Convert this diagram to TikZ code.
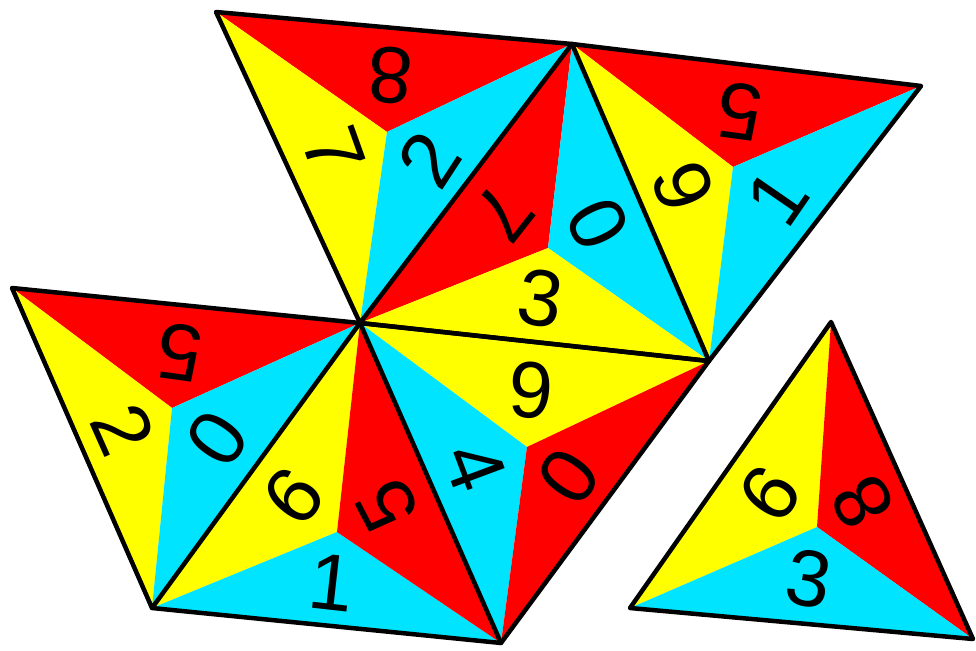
\documentclass[tikz,border=0pt]{standalone}
\usepackage{fontspec}
\setmainfont{Liberation Sans}
\usetikzlibrary{calc}
\definecolor{tred}{RGB}{255,0,0}
\definecolor{tyel}{RGB}{255,255,0}
\definecolor{tcya}{RGB}{0,228,255}
% #1 center, #2 vertex, #3 vertex, #4 colour
\newcommand\myfacet[4]{\fill[#4] (#1) -- (#2) -- (#3) -- cycle;}
% #1 name, #2 center, #3 vertex, #4 vertex, #5 text
\newcommand\mylabel[5]{%
  \path let \p1=(#2), \p2=($(#2)!0.54!($(#3)!0.5!(#4)$)$),
            \n1={atan2(\y1-\y2,\x1-\x2)-90} in
    node[dig, rotate=\n1] (#1) at (\p2) {#5};}
\begin{document}
\begin{tikzpicture}[x=1pt, y=-1pt,
  dig/.style={font=\fontsize{80}{80}\selectfont, inner sep=0pt},
  edge/.style={line width=4.5pt, line join=round, line cap=round, draw=black}]
\useasboundingbox (0,0) rectangle (976,650);
% vertices
\coordinate (A) at (216,12);
\coordinate (B) at (572,44);
\coordinate (C) at (921,86);
\coordinate (D) at (360,323);
\coordinate (E) at (709,361);
\coordinate (F) at (12,288);
\coordinate (G) at (152,608);
\coordinate (H) at (501,643);
\coordinate (P) at (831,322);
\coordinate (Q) at (630,608);
\coordinate (R) at (973,639);
% centres
\coordinate (c1) at (387,132);
\coordinate (c2) at (548,248);
\coordinate (c3) at (733,167);
\coordinate (c4) at (172,408);
\coordinate (c5) at (337,532);
\coordinate (c6) at (527,447);
\coordinate (c7) at (817,527);
% facets
\myfacet{c1}{A}{B}{tred}\myfacet{c1}{A}{D}{tyel}\myfacet{c1}{B}{D}{tcya}
\myfacet{c2}{B}{D}{tred}\myfacet{c2}{B}{E}{tcya}\myfacet{c2}{D}{E}{tyel}
\myfacet{c3}{B}{C}{tred}\myfacet{c3}{B}{E}{tyel}\myfacet{c3}{C}{E}{tcya}
\myfacet{c4}{F}{D}{tred}\myfacet{c4}{F}{G}{tyel}\myfacet{c4}{D}{G}{tcya}
\myfacet{c5}{D}{G}{tyel}\myfacet{c5}{G}{H}{tcya}\myfacet{c5}{D}{H}{tred}
\myfacet{c6}{D}{E}{tyel}\myfacet{c6}{D}{H}{tcya}\myfacet{c6}{E}{H}{tred}
\myfacet{c7}{P}{Q}{tyel}\myfacet{c7}{P}{R}{tred}\myfacet{c7}{Q}{R}{tcya}
% edges
\draw[edge] (A) -- (B) -- (D) -- cycle;
\draw[edge] (B) -- (E) -- (D);
\draw[edge] (B) -- (C) -- (E);
\draw[edge] (F) -- (D) -- (G) -- cycle;
\draw[edge] (G) -- (H) -- (D);
\draw[edge] (D) -- (E) -- (H);
\draw[edge] (P) -- (Q) -- (R) -- cycle;
% digits
\mylabel{t1a}{c1}{A}{B}{8}\mylabel{t1b}{c1}{A}{D}{7}\mylabel{t1c}{c1}{B}{D}{2}
\mylabel{t2a}{c2}{B}{D}{7}\mylabel{t2b}{c2}{B}{E}{0}\mylabel{t2c}{c2}{D}{E}{3}
\mylabel{t3a}{c3}{B}{C}{5}\mylabel{t3b}{c3}{B}{E}{9}\mylabel{t3c}{c3}{C}{E}{1}
\mylabel{t4a}{c4}{F}{D}{5}\mylabel{t4b}{c4}{F}{G}{2}\mylabel{t4c}{c4}{D}{G}{0}
\mylabel{t5a}{c5}{D}{G}{9}\mylabel{t5b}{c5}{G}{H}{1}\mylabel{t5c}{c5}{D}{H}{5}
\mylabel{t6a}{c6}{D}{E}{6}\mylabel{t6b}{c6}{D}{H}{4}\mylabel{t6c}{c6}{E}{H}{0}
\mylabel{t7a}{c7}{P}{Q}{9}\mylabel{t7b}{c7}{P}{R}{8}\mylabel{t7c}{c7}{Q}{R}{3}
\end{tikzpicture}
\end{document}
